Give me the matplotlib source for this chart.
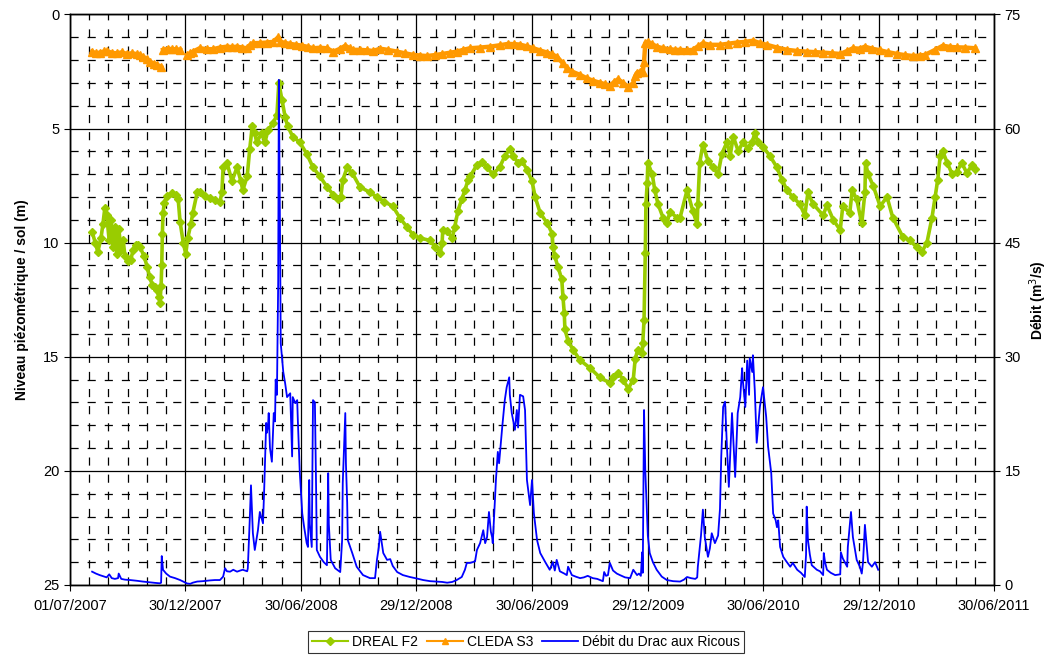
import numpy as np
import pandas as pd
import matplotlib
matplotlib.use("Agg")
from matplotlib import pyplot as plt
import matplotlib.dates as mdates
from matplotlib.ticker import FixedLocator, MultipleLocator
from matplotlib.lines import Line2D

plt.rcParams['font.family'] = ['Liberation Sans', 'DejaVu Sans']

## dates are stored as days since 01/07/2007
debut = pd.Timestamp("2007-07-01")

# DREAL F2 : niveau piezometrique / sol (m)
f2_jour = [35, 40, 44, 49, 52, 55, 58, 62, 65, 68, 71, 74, 77, 81, 84, 87, 92, 96, 100, 104,
           107, 111, 117, 122, 126, 130, 134, 137, 141, 142, 144, 145, 146, 147, 149, 153, 161, 167, 171, 174,
           179, 183, 186, 191, 194, 201, 205, 213, 221, 229, 237, 240, 242, 248, 256, 264, 270, 273, 280, 284,
           288, 292, 295, 303, 308, 313, 321, 327, 330, 335, 340, 344, 352, 363, 374, 384, 395, 406, 416, 423,
           428, 431, 438, 446, 458, 474, 485, 496, 510, 521, 532, 542, 553, 569, 577, 585, 588, 589, 596, 604,
           608, 613, 619, 624, 629, 632, 643, 651, 659, 668, 679, 687, 695, 700, 708, 714, 722, 730, 735, 743,
           754, 762, 763, 766, 771, 777, 779, 781, 782, 787, 795, 806, 822, 837, 853, 858, 866, 874, 882, 890,
           893, 897, 904, 905, 907, 909, 910, 912, 913, 920, 924, 929, 937, 943, 948, 959, 964, 975, 984, 991,
           992, 995, 1000, 1008, 1016, 1024, 1030, 1038, 1043, 1048, 1056, 1063, 1071, 1078, 1082, 1087, 1095, 1106, 1117, 1125,
           1133, 1142, 1153, 1161, 1166, 1174, 1190, 1196, 1206, 1217, 1221, 1232, 1236, 1243, 1251, 1256, 1257, 1261, 1269, 1280,
           1291, 1300, 1316, 1327, 1338, 1346, 1354, 1362, 1367, 1371, 1375, 1379, 1386, 1394, 1401, 1409, 1417, 1425, 1430]
f2_niveau = [9.52, 10.0, 10.4, 9.8, 9.2, 8.5, 8.8, 9.9, 9.0, 10.2, 9.3, 10.5, 9.4, 10.3, 9.9, 10.6, 10.8, 10.75, 10.3, 10.1,
             10.1, 10.2, 10.6, 11.05, 11.5, 11.85, 11.95, 12.07, 12.4, 12.65, 11.9, 11.0, 9.6, 8.7, 8.27, 7.95, 7.84, 7.9, 8.1, 9.1,
             10.0, 10.5, 9.8, 9.2, 8.7, 7.8, 7.8, 7.95, 8.05, 8.15, 8.2, 7.8, 6.7, 6.5, 7.3, 6.7, 7.3, 7.7, 7.1, 5.9,
             4.9, 5.2, 5.6, 5.2, 5.6, 5.06, 4.76, 4.4, 3.0, 3.75, 4.5, 4.9, 5.35, 5.6, 6.1, 6.7, 7.1, 7.55, 7.9, 8.1,
             8.0, 7.25, 6.7, 6.95, 7.55, 7.8, 8.0, 8.2, 8.4, 8.9, 9.3, 9.66, 9.8, 9.9, 10.2, 10.45, 10.0, 9.45, 9.5, 9.8,
             9.3, 8.6, 8.1, 7.7, 7.25, 7.1, 6.6, 6.45, 6.7, 7.0, 6.7, 6.2, 5.9, 6.2, 6.5, 6.4, 6.8, 7.3, 8.0, 8.7,
             9.15, 9.6, 10.2, 10.6, 11.05, 11.6, 12.4, 13.1, 13.8, 14.3, 14.7, 15.15, 15.5, 15.9, 16.15, 15.9, 15.7, 16.0, 16.4, 16.0,
             15.1, 14.7, 14.85, 14.4, 13.4, 10.45, 8.3, 7.4, 6.5, 7.0, 7.7, 8.3, 8.9, 9.15, 8.65, 8.9, 8.9, 7.7, 8.6, 9.2,
             8.3, 6.5, 5.7, 6.4, 6.7, 7.0, 6.1, 5.6, 6.2, 5.35, 6.0, 5.6, 5.85, 5.6, 5.2, 5.6, 5.8, 6.2, 6.7, 7.25,
             7.7, 8.0, 8.3, 8.8, 7.8, 8.3, 8.8, 8.35, 9.0, 9.45, 8.4, 8.7, 7.7, 8.1, 9.15, 7.8, 6.5, 7.0, 7.5, 8.4,
             8.0, 8.9, 9.75, 9.9, 10.2, 10.4, 10.0, 8.9, 8.0, 7.25, 6.2, 6.0, 6.5, 7.0, 6.9, 6.5, 6.95, 6.6, 6.75]

# CLEDA S3 : niveau piezometrique / sol (m), nan = pas de mesure
s3_jour = [35, 41, 47, 54, 58, 66, 74, 82, 90, 98, 106, 111, 115, 122, 126, 133, 137, 144, 145, 147,
           155, 161, 167, 174, 178, 185, 190, 194, 205, 216, 226, 237, 248, 256, 264, 272, 280, 284, 289, 300,
           311, 321, 329, 332, 340, 348, 357, 367, 376, 384, 395, 406, 416, 427, 435, 442, 447, 458, 469, 479,
           490, 502, 517, 529, 542, 553, 564, 577, 588, 600, 611, 621, 632, 648, 664, 679, 692, 702, 711, 722,
           732, 743, 754, 762, 769, 779, 785, 793, 806, 817, 826, 837, 845, 853, 860, 866, 874, 882, 890, 893,
           896, 901, 905, 907, 909, 913, 920, 927, 937, 948, 956, 964, 975, 984, 992, 1000, 1011, 1027, 1040, 1054,
           1067, 1079, 1090, 1101, 1117, 1133, 1149, 1164, 1177, 1190, 1204, 1217, 1228, 1237, 1248, 1256, 1267, 1280, 1292, 1307,
           1319, 1332, 1343, 1351, 1367, 1379, 1390, 1401, 1414, 1430]
s3_niveau = [1.63, 1.7, 1.67, 1.62, 1.6, 1.68, 1.7, 1.66, 1.73, 1.7, 1.74, 1.78, 1.85, 1.95, 2.07, 2.15, 2.2, 2.3, np.nan, 1.55,
             1.5, 1.52, 1.52, 1.55, np.nan, 1.77, 1.7, 1.63, 1.48, 1.52, 1.52, 1.45, 1.41, 1.43, 1.41, 1.45, 1.48, 1.35, 1.26, 1.25,
             1.23, 1.2, 1.0, 1.19, 1.25, 1.29, 1.33, 1.37, 1.42, 1.48, 1.46, 1.48, 1.63, 1.5, 1.37, 1.48, 1.55, 1.55, 1.57, 1.6,
             1.5, 1.55, 1.63, 1.7, 1.77, 1.8, 1.82, 1.78, 1.73, 1.68, 1.63, 1.55, 1.48, 1.45, 1.41, 1.35, 1.29, 1.3, 1.32, 1.4,
             1.48, 1.58, 1.67, 1.75, 1.85, 2.14, 2.35, 2.5, 2.65, 2.8, 2.9, 2.99, 3.05, 3.13, 2.95, 2.84, 3.0, 3.19, 3.0, 2.7,
             2.55, 2.5, 2.5, 2.07, 1.26, 1.19, 1.3, 1.41, 1.48, 1.52, 1.55, 1.55, 1.57, 1.55, 1.4, 1.26, 1.33, 1.33, 1.28, 1.23,
             1.2, 1.15, 1.25, 1.33, 1.45, 1.55, 1.6, 1.63, 1.65, 1.67, 1.7, 1.73, 1.6, 1.48, 1.5, 1.41, 1.5, 1.57, 1.65, 1.73,
             1.78, 1.82, 1.8, 1.77, 1.55, 1.37, 1.42, 1.44, 1.45, 1.48]

# Debit du Drac aux Ricous (m3/s)
q_jour = [35, 41, 47, 54, 58, 62, 66, 71, 76, 77, 81, 87, 95, 106, 115, 126, 134, 142, 144, 145,
          147, 152, 158, 166, 174, 180, 185, 190, 194, 201, 210, 221, 229, 237, 242, 245, 248, 253, 258, 264,
          269, 273, 280, 281, 284, 286, 289, 292, 297, 300, 305, 307, 310, 311, 313, 314, 316, 319, 322, 324,
          325, 327, 329, 330, 332, 333, 337, 340, 343, 348, 351, 352, 356, 359, 360, 363, 367, 370, 374, 376,
          378, 379, 382, 384, 387, 389, 390, 395, 401, 406, 408, 409, 412, 419, 427, 430, 431, 435, 436, 438,
          439, 446, 453, 463, 474, 482, 485, 488, 490, 495, 501, 506, 510, 517, 526, 537, 548, 558, 569, 580,
          588, 596, 604, 611, 619, 624, 627, 632, 640, 643, 648, 653, 656, 659, 662, 665, 667, 668, 673, 676,
          678, 683, 687, 690, 694, 695, 698, 703, 706, 708, 711, 716, 719, 722, 727, 730, 733, 738, 743, 751,
          758, 763, 766, 769, 774, 781, 785, 787, 793, 799, 806, 812, 818, 826, 833, 842, 844, 847, 850, 853,
          858, 864, 869, 877, 885, 890, 896, 899, 902, 904, 905, 907, 909, 912, 913, 916, 921, 927, 935, 943,
          953, 964, 970, 975, 981, 988, 991, 992, 997, 1000, 1003, 1008, 1011, 1014, 1019, 1024, 1027, 1029, 1032, 1035,
          1038, 1041, 1046, 1051, 1055, 1059, 1062, 1063, 1067, 1070, 1073, 1074, 1078, 1079, 1082, 1085, 1090, 1095, 1100, 1103,
          1108, 1111, 1115, 1117, 1119, 1122, 1127, 1131, 1138, 1142, 1149, 1155, 1161, 1163, 1164, 1166, 1169, 1172, 1180, 1185,
          1190, 1191, 1193, 1196, 1202, 1209, 1217, 1218, 1221, 1228, 1229, 1234, 1237, 1243, 1248, 1251, 1253, 1256, 1261, 1267,
          1272, 1277]
q_debit = [1.75, 1.5, 1.3, 1.1, 1.0, 1.4, 0.9, 0.8, 0.9, 1.5, 0.8, 0.7, 0.65, 0.55, 0.45, 0.35, 0.28, 0.22, 0.3, 3.8,
           2.0, 1.5, 1.1, 0.9, 0.65, 0.4, 0.2, 0.15, 0.3, 0.45, 0.5, 0.6, 0.65, 0.65, 1.1, 2.2, 1.8, 1.75, 2.0, 1.75,
           1.9, 2.0, 1.8, 2.2, 8.5, 13.1, 6.8, 4.6, 7.2, 9.6, 8.1, 12.9, 21.3, 20.0, 21.0, 22.6, 18.0, 16.2, 22.6, 21.5,
           27.0, 25.0, 40.0, 66.4, 45.0, 31.8, 28.0, 26.5, 24.7, 25.2, 16.9, 24.7, 23.9, 24.3, 21.7, 15.0, 9.4, 7.6, 5.5, 5.0,
           13.8, 8.0, 5.0, 24.3, 24.0, 12.0, 4.6, 3.7, 3.0, 2.6, 14.7, 8.0, 3.3, 2.2, 1.7, 5.9, 13.4, 22.6, 16.0, 10.8,
           5.9, 4.2, 2.4, 1.3, 0.9, 0.9, 3.3, 5.0, 7.0, 4.2, 3.3, 3.4, 2.5, 1.7, 1.3, 1.05, 0.85, 0.65, 0.5, 0.45,
           0.4, 0.3, 0.4, 0.65, 1.05, 2.0, 2.9, 2.9, 3.1, 4.6, 5.5, 7.2, 5.5, 6.3, 9.6, 7.0, 6.3, 5.5, 13.8, 17.5,
           16.0, 20.8, 24.3, 26.0, 27.3, 25.0, 22.6, 20.4, 23.0, 20.7, 25.0, 24.8, 23.0, 13.8, 10.5, 13.8, 9.4, 5.9, 4.2, 3.0,
           2.0, 3.0, 1.9, 3.3, 1.8, 1.5, 1.3, 2.4, 1.3, 1.1, 0.9, 1.0, 1.2, 0.9, 0.8, 0.5, 1.7, 1.2, 1.3, 2.9,
           1.9, 1.5, 1.3, 1.0, 0.9, 2.0, 1.3, 1.5, 1.2, 4.3, 1.6, 23.0, 15.0, 8.5, 6.5, 4.2, 3.0, 2.0, 1.1, 0.65,
           0.5, 0.45, 0.7, 1.05, 0.9, 0.8, 1.0, 2.4, 6.5, 9.9, 6.3, 3.7, 4.8, 6.8, 5.5, 6.5, 10.0, 16.8, 23.4, 24.1,
           18.2, 12.9, 22.6, 14.2, 22.6, 24.7, 28.5, 27.0, 23.4, 29.5, 25.0, 29.8, 28.0, 30.2, 25.6, 18.7, 23.4, 26.0, 22.1, 18.2,
           14.7, 9.4, 8.5, 7.6, 8.5, 5.0, 3.7, 3.2, 2.4, 2.9, 2.0, 1.6, 1.05, 4.0, 10.3, 5.9, 4.0, 2.6, 2.0, 1.8,
           1.3, 4.2, 3.0, 2.0, 1.6, 1.3, 1.4, 4.3, 3.5, 2.4, 5.0, 9.6, 6.3, 3.3, 2.4, 1.5, 3.0, 7.9, 3.0, 2.4,
           3.0, 2.0]

vert = '#99CC00'
orange = '#FF9900'
bleu = '#0000FF'

f2_date = debut + pd.to_timedelta(f2_jour, unit='D')
s3_date = debut + pd.to_timedelta(s3_jour, unit='D')
q_date = debut + pd.to_timedelta(q_jour, unit='D')

fig = plt.figure(figsize=(10.49, 6.55), dpi=100)
ax = fig.add_axes([0.0667, 0.1069, 0.8809, 0.871])
ax2 = ax.twinx()

# thick lines so the daily markers read as a band
ax.plot(f2_date, f2_niveau, color=vert, lw=2.6, marker='D', ms=4.5, mec=vert, mfc=vert)
ax.plot(s3_date, s3_niveau, color=orange, lw=3.2, marker='^', ms=5.5, mec=orange, mfc=orange)
ax2.plot(q_date, q_debit, color=bleu, lw=1.3)

## x axis : 182.5 days between labels, 6 minor divisions
x0 = mdates.date2num(debut)
ax.set_xlim(x0, x0 + 1460)
ax.xaxis.set_major_locator(FixedLocator([x0 + 182.5 * k for k in range(9)]))
ax.xaxis.set_minor_locator(FixedLocator([x0 + 182.5 / 6 * k for k in range(49)]))
ax.xaxis.set_major_formatter(mdates.DateFormatter('%d/%m/%Y'))

## left axis inverted, right axis for the flow
ax.set_ylim(25, 0)
ax.yaxis.set_major_locator(MultipleLocator(5))
ax.yaxis.set_minor_locator(MultipleLocator(1))
ax2.set_ylim(0, 75)
ax2.yaxis.set_major_locator(MultipleLocator(15))

ax.grid(which='major', color='black', lw=0.9, ls='-')
ax.grid(which='minor', color='black', lw=0.9, ls=(0, (6.5, 7.2)))
ax.set_axisbelow(True)

for a in (ax, ax2):
    for s in a.spines.values():
        s.set_color('black')
        s.set_linewidth(1.0)
ax.tick_params(which='major', labelsize=10.5, length=4, direction='out', colors='black')
ax.tick_params(which='minor', length=0)
ax.tick_params(axis='x', pad=6)
ax2.tick_params(labelsize=10.5, length=4, direction='out')

ax.set_ylabel('Niveau piézométrique / sol (m)', fontsize=10, fontweight='bold', labelpad=10)
ax2.set_ylabel('Débit (m$^3$/s)', fontsize=10, fontweight='bold', labelpad=5)

handles = [Line2D([], [], color=vert, marker='D', ms=4),
           Line2D([], [], color=orange, marker='^', ms=5),
           Line2D([], [], color=bleu, lw=1.3)]
leg = fig.legend(handles, ['DREAL F2', 'CLEDA S3', 'Débit du Drac aux Ricous'],
                 loc='center', bbox_to_anchor=(0.5015, 0.0195), ncol=3, fontsize=10,
                 frameon=True, fancybox=False, edgecolor='black', handlelength=2.6,
                 columnspacing=0.6, handletextpad=0.3, borderpad=0.3)
leg.get_frame().set_linewidth(0.8)

fig.savefig('out.png', dpi=100)
